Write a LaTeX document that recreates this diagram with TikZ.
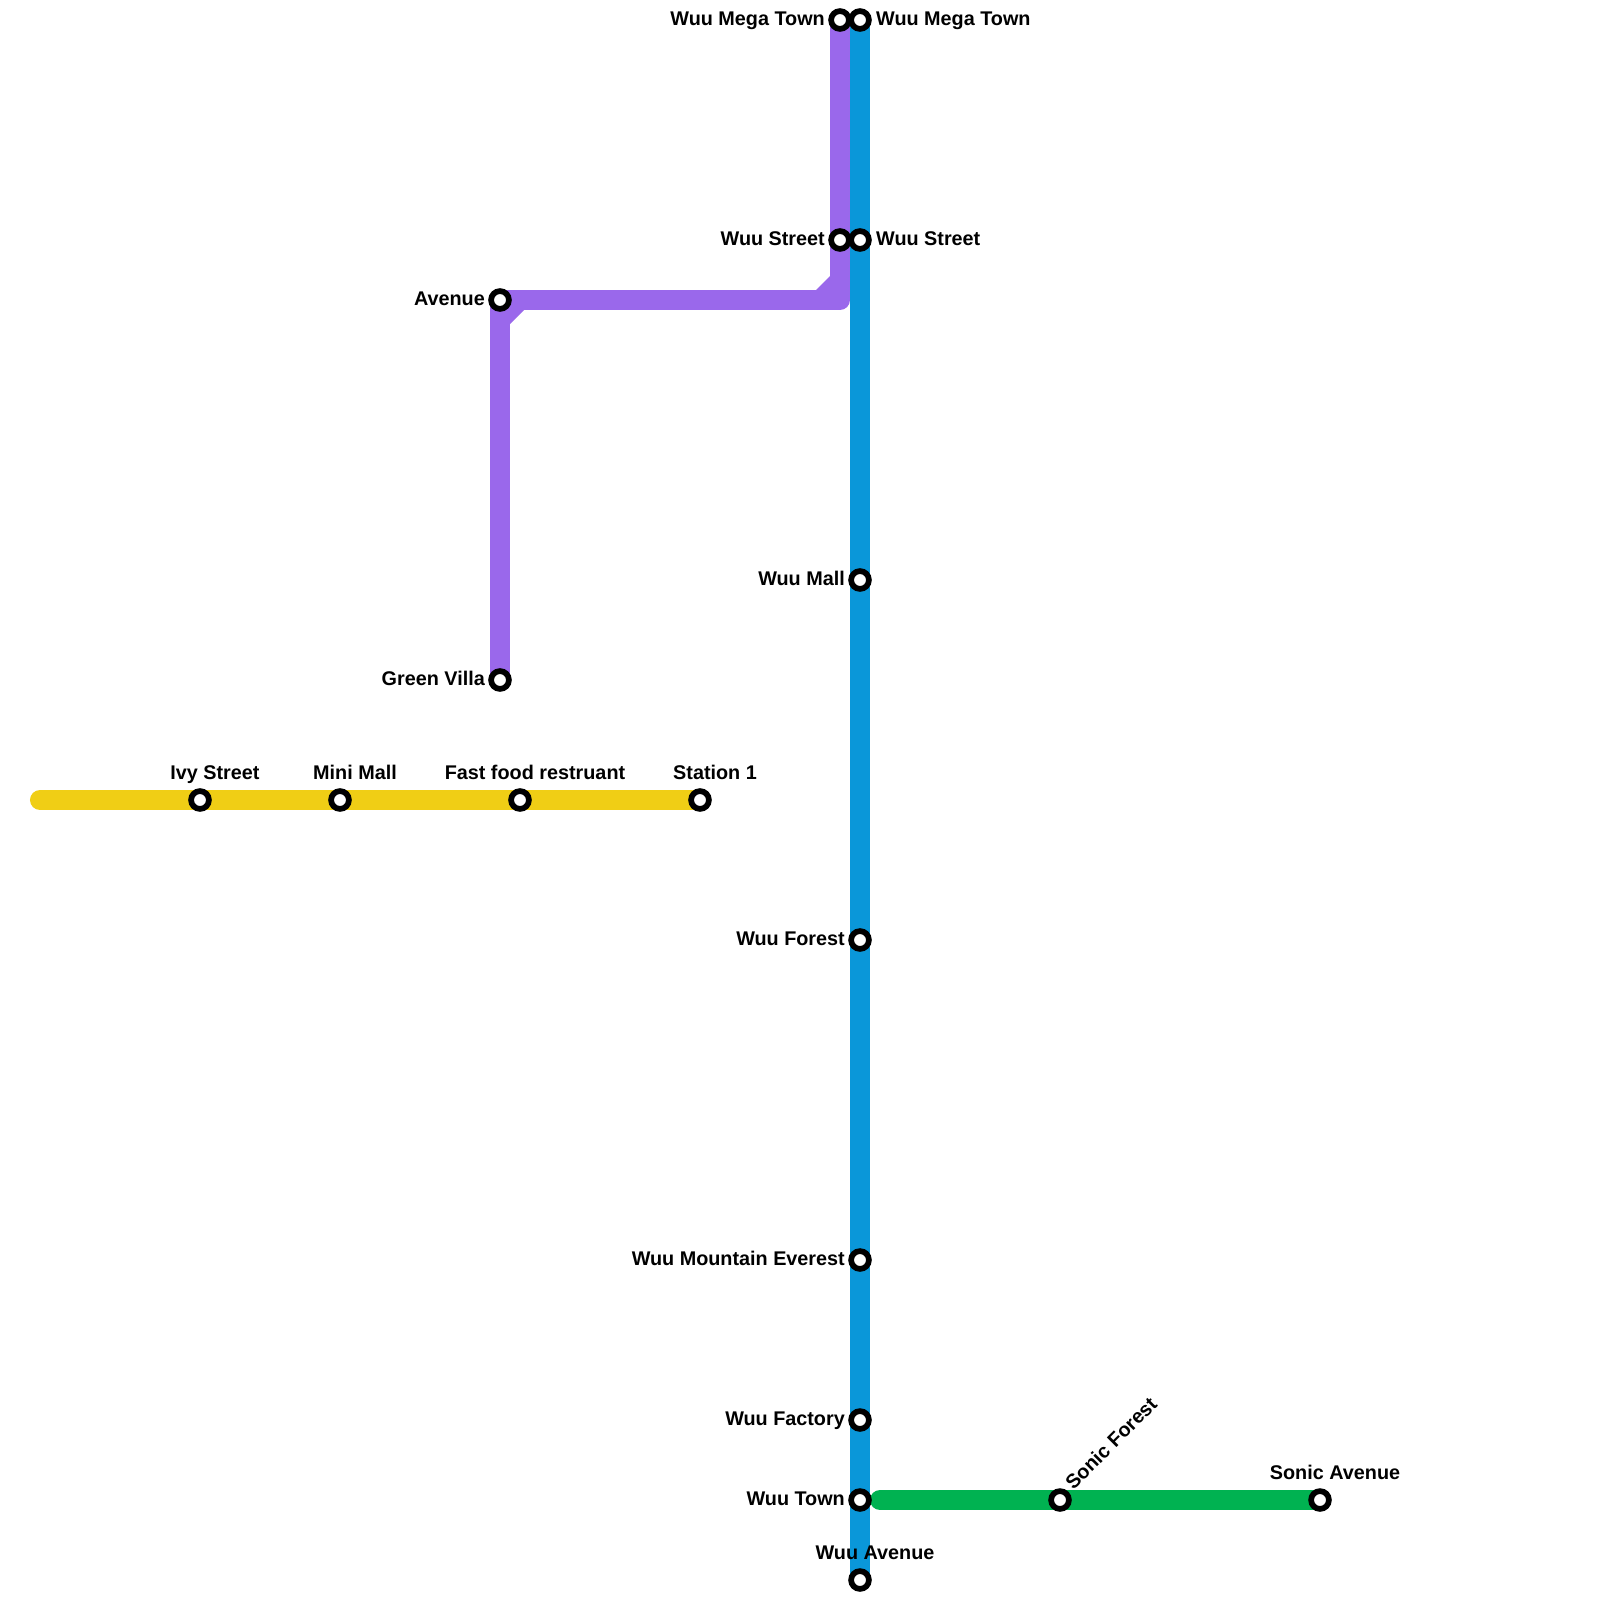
\documentclass[tikz,border=0pt]{standalone}
\usepackage{fontspec}
\setmainfont{Liberation Sans}
\usetikzlibrary{positioning, backgrounds}
\definecolor{linepurple}{HTML}{9A68EB}
\definecolor{lineblue}{HTML}{0A97D9}
\definecolor{lineyellow}{HTML}{F0CE15}
\definecolor{linegreen}{HTML}{00B251}

\begin{document}
\begin{tikzpicture}[
  x=0.01cm, y=-0.01cm,
  stn/.style={circle, minimum size=0.178cm, inner sep=0pt, outer sep=0pt,
              draw=black, fill=white, line width=0.057cm},
  stnlabel/.style={inner sep=0pt, font=\fontsize{5.63pt}{6pt}\bfseries},
  railline/.style={line width=0.2cm, line cap=round, line join=round}
]
\useasboundingbox (0,0) rectangle (1600,1600);

% stations, with the label to the left
\foreach \name/\x/\y/\txt in {
  megap/840/20/Wuu Mega Town, streetp/840/240/Wuu Street,
  avep/500/300/Avenue, villa/500/680/Green Villa,
  mall/860/580/Wuu Mall, forest/860/940/Wuu Forest,
  everest/860/1260/Wuu Mountain Everest, factory/860/1420/Wuu Factory,
  town/860/1500/Wuu Town} {
  \node[stn] (\name) at (\x, \y) {};
  \node[stnlabel, anchor=base east] (lbl\name) at (\x-14.5, \y+5.5) {\txt};
}

% label to the right
\foreach \name/\x/\y/\txt in {
  megab/860/20/Wuu Mega Town, streetb/860/240/Wuu Street} {
  \node[stn] (\name) at (\x, \y) {};
  \node[stnlabel, anchor=base west] (lbl\name) at (\x+15.5, \y+5.5) {\txt};
}

% label above
\foreach \name/\x/\y/\txt in {
  ivy/200/800/Ivy Street, minimall/340/800/Mini Mall,
  fastfood/520/800/Fast food restruant, stationone/700/800/Station 1,
  sonicave/1320/1500/Sonic Avenue, wuuave/860/1580/Wuu Avenue} {
  \node[stn] (\name) at (\x, \y) {};
  \node[stnlabel, anchor=base] (lbl\name) at (\x+15, \y-20.5) {\txt};
}

\node[stn] (sonicforest) at (1060, 1500) {};
\node[stnlabel, anchor=base west, rotate=45] (lblsonicforest) at (1073, 1491) {Sonic Forest};

\coordinate (yellowend) at (40, 800);
\coordinate (greenend) at (880, 1500);
\coordinate (bendright) at (840, 300);

\begin{scope}[on background layer]
  \draw[railline, lineyellow] (yellowend) -- (ivy.center) -- (minimall.center)
    -- (fastfood.center) -- (stationone.center);
  \draw[railline, linegreen] (greenend) -- (sonicforest.center) -- (sonicave.center);
  \draw[railline, lineblue, line cap=butt] (megab.center) -- (wuuave.center);
  \draw[railline, linepurple, line cap=butt] (megap.center) -- (streetp.center)
    -- (bendright) -- (avep.center) -- (villa.center);
  \fill[linepurple] (830, 276) -- (816, 290) -- (830, 290) -- cycle;
  \fill[linepurple] (510, 310) -- (524, 310) -- (510, 324) -- cycle;
\end{scope}
\end{tikzpicture}
\end{document}
